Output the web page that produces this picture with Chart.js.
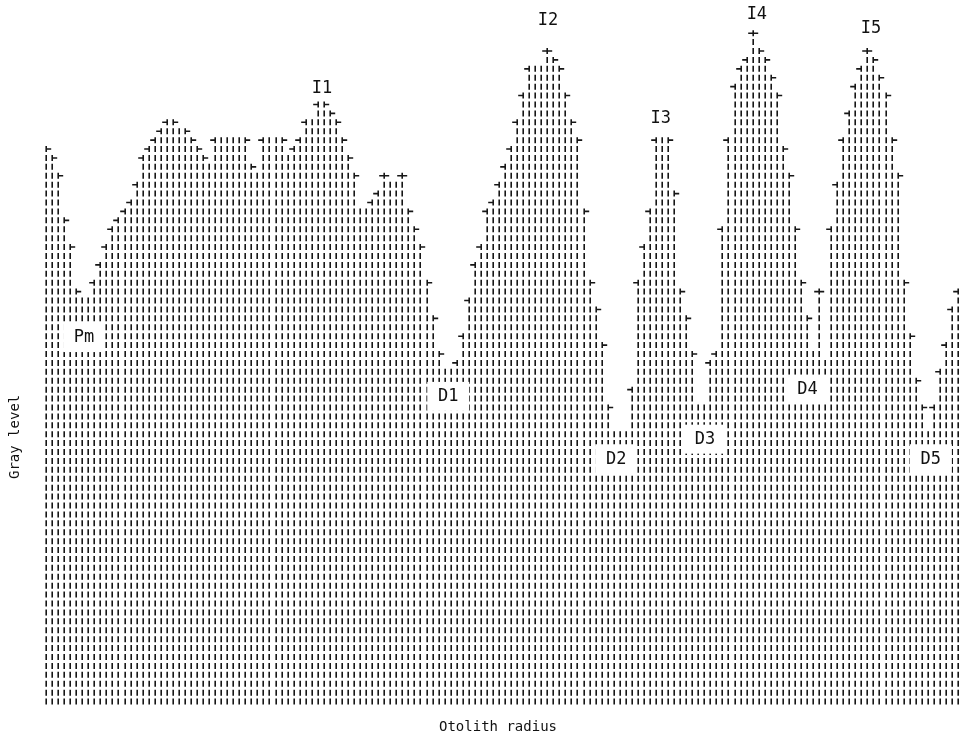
<!DOCTYPE html>
<html>
<head>
<meta charset="utf-8">
<title>Otolith gray-level profile</title>
<script src="https://cdn.jsdelivr.net/npm/chart.js@4/dist/chart.umd.min.js"></script>
<style>
  html, body { margin: 0; padding: 0; background: #ffffff; }
  #wrap { width: 962px; height: 737px; }
</style>
</head>
<body>
<div id="wrap"><canvas id="profile" width="962" height="737"></canvas></div>
<script>
// Gray level (number of printed characters) at each step along the otolith radius
const grayLevel = [
  63, 62, 60, 55, 52, 47, 46, 46, 48, 50,
  52, 54, 55, 56, 57, 59, 62, 63, 64, 65,
  66, 66, 65, 65, 64, 63, 62, 61, 64, 64,
  64, 64, 64, 64, 61, 60, 64, 64, 64, 64,
  62, 63, 64, 66, 66, 68, 68, 67, 66, 64,
  62, 60, 56, 56, 57, 58, 60, 59, 59, 60,
  56, 54, 52, 48, 44, 40, 38, 38, 39, 42,
  46, 50, 52, 56, 57, 59, 61, 63, 66, 69,
  72, 72, 72, 74, 73, 72, 69, 66, 64, 56,
  48, 45, 41, 34, 31, 31, 31, 36, 48, 52,
  56, 64, 64, 64, 58, 47, 44, 40, 34, 34,
  39, 40, 54, 64, 70, 72, 73, 76, 74, 73,
  71, 69, 63, 60, 54, 48, 44, 40, 47, 39,
  54, 59, 64, 67, 70, 72, 74, 73, 71, 69,
  64, 60, 48, 42, 37, 34, 31, 34, 38, 41,
  45, 47
];

// Steps along the radius (one category per printed column)
const radiusSteps = grayLevel.map((_, i) => i + 1);

// Zone names: increments (I) at the peaks, discontinuities (D) in the valleys, Pm = primordium
const zoneNames  = ['Pm', 'I1', 'I2', 'I3', 'I4', 'I5', 'D1', 'D2', 'D3', 'D4', 'D5'];
const zoneStep   = [6.3, 45.7, 83.1, 101.8, 117.7, 136.6, 66.6, 94.4, 109.1, 126.1, 146.5];
const zoneLevel  = [41.4, 69.4, 77.0, 66.0, 77.7, 76.1, 34.8, 27.8, 30.0, 35.6, 27.8];

const AXIS_X_TITLE = 'Otolith radius';
const AXIS_Y_TITLE = 'Gray level';
const LEVEL_MAX = 79;

// Draws each column as a stack of short typed strokes, one per gray-level unit,
// with a small horizontal tick where a column tops out above its neighbour.
const typedColumns = {
  id: 'typedColumns',
  afterDatasetsDraw(chart) {
    const ctx = chart.ctx;
    const meta = chart.getDatasetMeta(0);
    const ys = chart.scales.y;
    const values = chart.data.datasets[0].data;
    const n = values.length;
    ctx.save();
    ctx.strokeStyle = '#161616';
    ctx.lineWidth = 1.6;
    ctx.lineCap = 'butt';
    ctx.beginPath();
    meta.data.forEach((bar, i) => {
      const v = values[i];
      const x = Math.round(bar.x) + 0.2;
      for (let k = 0; k < v; k++) {
        const yc = ys.getPixelForValue(k + 0.5);
        ctx.moveTo(x, yc - 3);
        ctx.lineTo(x, yc + 3);
      }
      const yt = ys.getPixelForValue(v - 0.5);
      if (i > 0 && values[i - 1] < v) {
        ctx.moveTo(x - 5, yt);
        ctx.lineTo(x, yt);
      }
      if (i < n - 1 && values[i + 1] < v) {
        ctx.moveTo(x, yt);
        ctx.lineTo(x + 5, yt);
      }
    });
    ctx.stroke();
    ctx.restore();
  }
};

// Zone names over the profile; valley names sit in a cleared box
const zoneLabels = {
  id: 'zoneLabels',
  afterDraw(chart) {
    const ctx = chart.ctx;
    const xs = chart.scales.x;
    const ys = chart.scales.y;
    const area = chart.chartArea;
    ctx.save();
    ctx.font = '17px "DejaVu Sans Mono", monospace';
    ctx.textAlign = 'center';
    ctx.textBaseline = 'middle';
    zoneNames.forEach((name, i) => {
      const px = xs.getPixelForValue(zoneStep[i]);
      const py = ys.getPixelForValue(zoneLevel[i]);
      if (name[0] !== 'I') {
        ctx.fillStyle = '#ffffff';
        ctx.fillRect(px - 21, py - 14, 42, 29);
      }
      ctx.fillStyle = '#111111';
      ctx.fillText(name, px, py + 1);
    });

    // Axis titles
    ctx.font = '14px "DejaVu Sans Mono", monospace';
    ctx.fillStyle = '#111111';
    ctx.fillText(AXIS_X_TITLE, (area.left + area.right) / 2 - 4, area.bottom + 21);
    ctx.translate(15, ys.getPixelForValue(30.2));
    ctx.rotate(-Math.PI / 2);
    ctx.fillText(AXIS_Y_TITLE, 0, 0);
    ctx.restore();
  }
};

new Chart(document.getElementById('profile'), {
  type: 'bar',
  data: {
    labels: radiusSteps,
    datasets: [{
      label: AXIS_Y_TITLE,
      data: grayLevel,
      backgroundColor: 'rgba(0,0,0,0)',
      borderWidth: 0,
      categoryPercentage: 1,
      barPercentage: 1
    }]
  },
  options: {
    responsive: false,
    animation: false,
    events: [],
    layout: { padding: { left: 43, right: 1, top: 2, bottom: 31 } },
    plugins: { legend: { display: false }, tooltip: { enabled: false } },
    scales: {
      x: { display: false },
      y: { display: false, min: 0, max: LEVEL_MAX }
    }
  },
  plugins: [typedColumns, zoneLabels]
});
</script>
</body>
</html>
